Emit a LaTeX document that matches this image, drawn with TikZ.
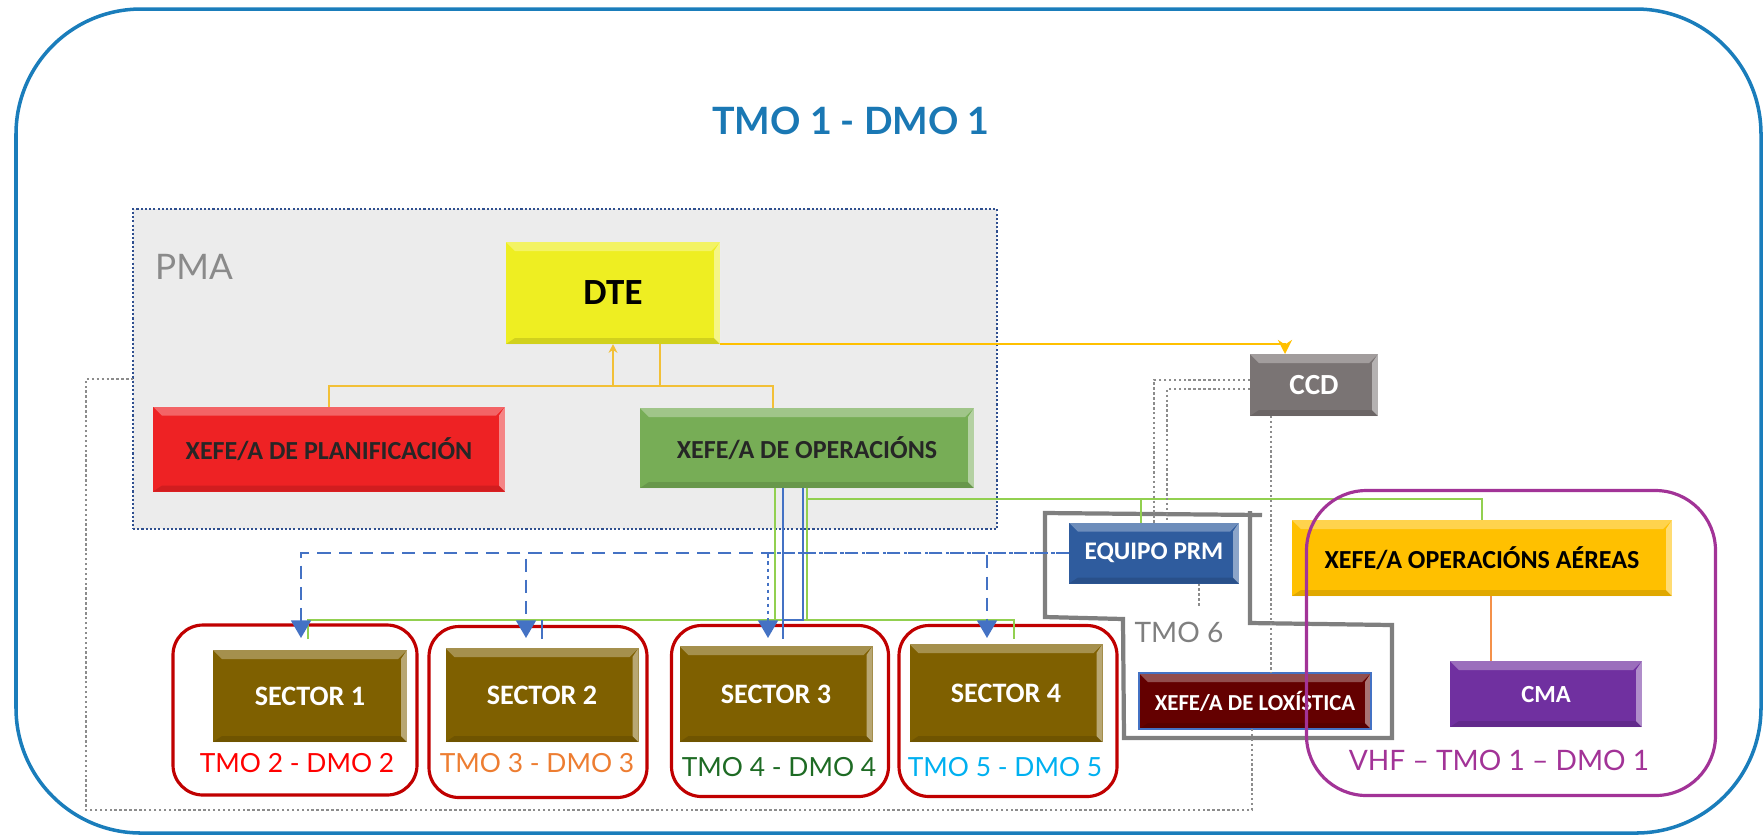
\documentclass[tikz,border=0pt]{standalone}
\usepackage{fontspec}
\setmainfont{Carlito}
\newfontfamily\latof{Lato}
\usetikzlibrary{positioning,arrows.meta,calc}

\definecolor{frameblue}{HTML}{1A7DBB}
\definecolor{ttlblue}{HTML}{1A78B4}
\definecolor{pmagray}{HTML}{ECECEC}
\definecolor{pmanavy}{HTML}{2F4F8F}
\definecolor{pmatxt}{HTML}{8A8A8A}
\definecolor{dteyel}{HTML}{EEEE22}
\definecolor{planred}{HTML}{EE2224}
\definecolor{opgreen}{HTML}{77AD56}
\definecolor{ccdgray}{HTML}{7A7474}
\definecolor{prmblue}{HTML}{2F5C9E}
\definecolor{aeramber}{HTML}{FFC000}
\definecolor{loxred}{HTML}{640000}
\definecolor{cmapurple}{HTML}{7030A0}
\definecolor{sectgold}{HTML}{7F6000}
\definecolor{grpred}{HTML}{C00000}
\definecolor{vhfpurple}{HTML}{A23397}
\definecolor{tmo6gray}{HTML}{7F7F7F}
\definecolor{grnline}{HTML}{92D050}
\definecolor{bluline}{HTML}{4472C4}
\definecolor{ylwline}{HTML}{F2C037}
\definecolor{ambline}{HTML}{FFC000}
\definecolor{orgline}{HTML}{F4914A}
\definecolor{dotgray}{HTML}{8C8C8C}
\definecolor{lblred}{HTML}{FF0000}
\definecolor{lblorange}{HTML}{ED7D31}
\definecolor{lblgreen}{HTML}{1E6B24}
\definecolor{lblcyan}{HTML}{00B0F0}

\begin{document}
\begin{tikzpicture}[x=0.01cm, y=-0.01cm,
  every node/.style={inner sep=0pt, outer sep=0pt},
  wh/.style 2 args={minimum width=#1*0.01cm, minimum height=#2*0.01cm},
  bev/.style={path picture={
    \fill[white, opacity=.3] (path picture bounding box.north west) -- (path picture bounding box.north east)
      -- ++(-9,9) -- ($(path picture bounding box.north west)+(9,9)$) -- cycle;
    \fill[white, opacity=.45] (path picture bounding box.north east) -- (path picture bounding box.south east)
      -- ++(-6,-6) -- ($(path picture bounding box.north east)+(-6,9)$) -- cycle;
    \fill[black, opacity=.12] (path picture bounding box.south west) -- (path picture bounding box.south east)
      -- ++(-6,-6) -- ($(path picture bounding box.south west)+(9,-6)$) -- cycle;}},
  box/.style={rectangle, bev, align=center, font=\bfseries\fontsize{7.4}{9}\selectfont},
  sect/.style={box, fill=sectgold, text=white, font=\bfseries\fontsize{8}{9}\selectfont},
  grp/.style={draw=grpred, line width=0.9pt, rounded corners=0.3cm},
  lbl/.style={font=\latof\fontsize{7.5}{9}\selectfont},
  grn/.style={draw=grnline, line width=0.8pt},
  blu/.style={draw=bluline, line width=0.8pt},
  dsh/.style={draw=bluline, line width=0.7pt, dash pattern=on 3.7pt off 2.3pt, -{Triangle[width=5.6pt,length=5pt]}},
  dotln/.style={draw=dotgray, line width=0.7pt, dash pattern=on 0.7pt off 0.7pt},
  ylw/.style={draw=ylwline, line width=0.45pt},
  amb/.style={draw=ambline, line width=0.8pt},
  org/.style={draw=orgline, line width=0.8pt}]
\useasboundingbox (0,0) rectangle (1763,835);

% frame and PMA area
\draw[frameblue, line width=1pt, rounded corners=1.25cm] (16,9) rectangle (1761,833);
\node[fill=pmagray, draw=pmanavy, line width=0.8pt, dash pattern=on 0.6pt off 0.6pt, wh={864}{320}] (pma) at (565,369) {};
\node[font=\latof\fontsize{10}{12}\selectfont, text=pmatxt] (pmalbl) at (194,267) {PMA};
\node[font=\latof\bfseries\fontsize{10.7}{12}\selectfont, text=ttlblue] (title) at (851,121) {TMO 1 - DMO 1};

% TMO 6 outline
\draw[tmo6gray, line width=1.2pt] (1262,515) -- (1045,513) -- (1045,617) -- (1123,619) -- (1124,738)
  -- (1392,738) -- (1392,625) -- (1250,623) -- (1250,511);
\node[lbl, text=tmo6gray, font=\latof\fontsize{8}{9}\selectfont] (t6) at (1179,632) {TMO 6};

% sector groups
\node[grp, wh={244}{170}] (g1) at (295,710) {};
\node[grp, wh={218}{171}] (g2) at (538,712) {};
\node[grp, wh={217}{171}] (g3) at (780,711) {};
\node[grp, wh={218}{171}] (g4) at (1008,711) {};

% boxes
\node[box, wh={214}{102}, fill=dteyel, font=\bfseries\fontsize{10.5}{12}\selectfont] (dte) at (613,293) {DTE};
\node[box, wh={352}{85}, fill=planred, text=black!85] (plan) at (329,449) {XEFE/A DE PLANIFICACIÓN};
\node[box, wh={334}{80}, fill=opgreen, text=black!85] (oper) at (807,448) {XEFE/A DE OPERACIÓNS};
\node[box, wh={128}{62}, fill=ccdgray, text=white, font=\bfseries\fontsize{8.3}{9}\selectfont] (ccd) at (1314,385) {CCD};
\node[box, wh={170}{61}, fill=prmblue, text=white, font=\bfseries\fontsize{7.2}{9}\selectfont] (prm) at (1154,553) {EQUIPO PRM};
\node[box, wh={380}{76}, fill=aeramber] (aer) at (1482,558) {XEFE/A OPERACIÓNS AÉREAS};
\node[box, wh={232}{56}, fill=loxred, draw=bluline, line width=0.6pt, text=white, font=\bfseries\fontsize{6.5}{8}\selectfont] (lox) at (1255,701) {XEFE/A DE LOXÍSTICA};
\node[box, wh={192}{66}, fill=cmapurple, text=white, font=\bfseries\fontsize{7}{8}\selectfont] (cma) at (1546,694) {CMA};

\node[sect, wh={194}{92}] (s1) at (310,696) {SECTOR 1};
\node[sect, wh={193}{94}] (s2) at (542,695) {SECTOR 2};
\node[sect, wh={193}{96}] (s3) at (776,694) {SECTOR 3};
\node[sect, wh={193}{98}] (s4) at (1006,693) {SECTOR 4};

\node[lbl, text=lblred] (l1) at (297,763) {TMO 2 - DMO 2};
\node[lbl, text=lblorange] (l2) at (537,763) {TMO 3 - DMO 3};
\node[lbl, text=lblgreen] (l3) at (779,767) {TMO 4 - DMO 4};
\node[lbl, text=lblcyan] (l4) at (1005,767) {TMO 5 - DMO 5};

% DTE links
\draw[ylw] (plan.north) |- ($(oper.north)+(-34,-22)$) -- ($(oper.north)+(-34,0)$);
\draw[ylw, -{Stealth[length=2.5pt,width=2.5pt]}] ($(dte.south)+(0,42)$) -- (dte.south);
\draw[ylw] ($(dte.south)+(47,0)$) -- ++(0,42);
\draw[amb, -{Stealth[length=4pt,width=4pt]}] (dte.south east) -| ($(ccd.north)+(-29,0)$);

% operations links
\coordinate (bl) at (308,620);
\coordinate (br) at (1014,620);
\draw[grn] (oper.south) -- ++(0,11) -| (aer.north);
\draw[grn] ($(oper.south)+(0,11)$) -| ($(prm.north)+(-13,0)$);
\draw[grn] ($(bl)+(0,19)$) -- (bl) -- (br) -- ++(0,19);
\draw[grn] ($(oper.south)+(-32,0)$) -- ++(0,132);
\draw[grn] (oper.south) -- ++(0,132);
\draw[blu] ($(oper.south)+(-24,0)$) -- ++(0,151);
\draw[blu] ($(oper.south)+(-4,0)$) -- ++(0,132) -- ++(-20,0);
\draw[blu] (s2.north |- bl) -- ++(0,19);

% PRM to sectors
\coordinate (d1) at (301,638);
\coordinate (d2) at (526,638);
\coordinate (d3) at (768,638);
\coordinate (d4) at (987,638);
\draw[dsh] (prm.west) -| (d1);
\draw[dsh] (prm.west) -| (d2);
\draw[dsh, dash pattern=on 1pt off 1pt] (prm.west) -| (d3);
\draw[dsh] (prm.west) -| (d4);

% CCD links
\coordinate (lp) at (86,810);
\draw[dotln] ($(ccd.west)+(0,-5)$) -| (prm.north);
\draw[dotln] ($(ccd.west)+(0,4)$) -| ($(prm.north)+(13,0)$);
\draw[dotln] ($(ccd.south)+(-43,0)$) -- ($(lox.north)+(16,0)$);
\draw[dotln] ($(prm.south)+(45,0)$) -- ++(0,24);
\draw[dotln] ($(lox.south)+(-3,0)$) |- (lp) |- ($(pma.west)+(0,10)$);

% air operations
\draw[org] ($(aer.south)+(9,0)$) -- ($(cma.north)+(-55,0)$);
\node[draw=vhfpurple, line width=0.9pt, rounded corners=0.6cm, wh={409}{305}] (vhf) at (1511,643) {};
\node[lbl, text=vhfpurple, font=\latof\fontsize{8}{9}\selectfont] (vhflbl) at (1499,760) {VHF – TMO 1 – DMO 1};
\end{tikzpicture}
\end{document}
